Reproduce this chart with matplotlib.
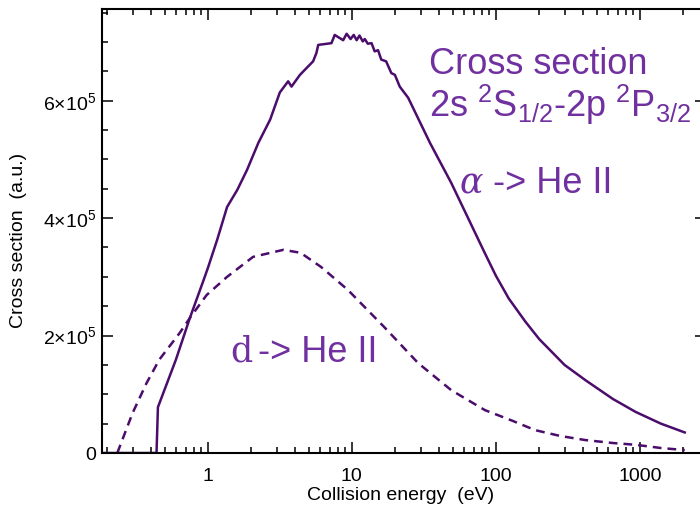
import numpy as np
import matplotlib
matplotlib.use("Agg")
from matplotlib import pyplot as plt
from matplotlib.ticker import FixedLocator, LogLocator, MultipleLocator, NullFormatter

plt.rcParams['font.family'] = ['Liberation Sans', 'DejaVu Sans']
plt.rcParams['mathtext.fontset'] = 'custom'
plt.rcParams['mathtext.rm'] = 'Liberation Sans'
plt.rcParams['mathtext.it'] = 'Liberation Sans:italic'

# alpha -> He II (solid)
eAlpha = [0.184, 0.44, 0.45, 0.6, 0.75, 0.92, 1.0, 1.16, 1.36, 1.6, 1.87, 2.24, 2.71,
          3.16, 3.61, 3.81, 4.36, 5.38, 5.67, 5.84, 7.22, 7.6, 8.7, 9.2, 9.8, 10.3,
          10.8, 11.3, 11.9, 12.3, 12.9, 13.7, 14.4, 15.2, 16.0, 17.3, 18.8, 19.9,
          21.5, 24.6, 34.9, 49, 84, 100, 123, 160, 200, 300, 419, 650, 934, 1400, 2050]
sAlpha = [0, 0, 0.78e5, 1.59e5, 2.30e5, 2.90e5, 3.15e5, 3.63e5, 4.19e5, 4.48e5, 4.82e5,
          5.28e5, 5.68e5, 6.14e5, 6.33e5, 6.24e5, 6.44e5, 6.67e5, 6.81e5, 6.95e5,
          6.98e5, 7.12e5, 7.03e5, 7.14e5, 7.05e5, 7.12e5, 7.03e5, 7.11e5, 7.01e5,
          7.05e5, 6.97e5, 6.98e5, 6.84e5, 6.86e5, 6.70e5, 6.67e5, 6.47e5, 6.44e5,
          6.24e5, 6.05e5, 5.28e5, 4.60e5, 3.40e5, 3.02e5, 2.63e5, 2.24e5, 1.94e5,
          1.50e5, 1.24e5, 0.92e5, 0.70e5, 0.50e5, 0.35e5]

# d -> He II (dashed)
eD = [0.235, 0.30, 0.375, 0.46, 0.64, 0.75, 0.98, 1.36, 2.06, 3.34, 4.4, 6.1, 9.36,
      16.7, 28.9, 49, 84, 130, 187, 280, 419, 650, 934, 1400, 2050]
sD = [0, 0.68e5, 1.19e5, 1.59e5, 2.05e5, 2.30e5, 2.69e5, 3.0e5, 3.34e5, 3.46e5,
      3.41e5, 3.17e5, 2.78e5, 2.15e5, 1.53e5, 1.07e5, 0.73e5, 0.55e5, 0.39e5,
      0.29e5, 0.22e5, 0.17e5, 0.14e5, 0.085e5, 0.05e5]

xTicks = [1, 10, 100, 1000]
xTickLabels = ["1", "10", "100", "1000"]
yTicks = [0, 2e5, 4e5, 6e5]
yTickLabels = ["0", "2×10$^5$", "4×10$^5$", "6×10$^5$"]

lineColor = '#4b0c6c'
textColor = '#7030a0'
W, H = 700, 509

fig = plt.figure(figsize=(7.0, 5.09), dpi=100)
ax = fig.add_axes([102/W, 56/H, 604/W, 444.5/H])

ax.plot(eAlpha, sAlpha, color=lineColor, lw=1.8)
ax.plot(eD, sD, color=lineColor, lw=1.8, dashes=(3.5, 2.4))

ax.set_xscale('log')
ax.set_xlim(0.184, 2880)
ax.set_ylim(0, 7.57e5)

ax.xaxis.set_major_locator(FixedLocator(xTicks))
ax.set_xticklabels(xTickLabels)
ax.xaxis.set_minor_locator(LogLocator(base=10, subs=np.arange(2, 10)))
ax.xaxis.set_minor_formatter(NullFormatter())
ax.yaxis.set_major_locator(FixedLocator(yTicks))
ax.set_yticklabels(yTickLabels)
ax.yaxis.set_minor_locator(MultipleLocator(5e4))

ax.tick_params(which='both', direction='in', top=True, right=True, width=1.1, color='black')
ax.tick_params(which='major', length=8)
ax.tick_params(which='minor', length=4.3)
ax.tick_params(axis='x', labelsize=14, pad=11)
ax.tick_params(axis='y', labelsize=14, pad=4)
for sp in ax.spines.values():
    sp.set_linewidth(1.5)

fig.text(401/W, 1 - 495/H, "Collision energy  (eV)", ha='center', va='center', fontsize=14)
fig.text(19/W, 1 - 240/H, "Cross section  (a.u.)", ha='center', va='center',
         rotation=90, fontsize=14)

fig.text(429/W, 1 - 74/H, "Cross section", color=textColor, fontsize=26, va='baseline')
fig.text(429/W, 1 - 117/H, "2s $^2$S$_{1/2}$-2p $^2$P$_{3/2}$", color=textColor,
         fontsize=26, va='baseline')
fig.text(460/W, 1 - 193/H, "α", color=textColor, fontsize=25, va='baseline',
         family='DejaVu Serif', style='italic')
fig.text(493/W, 1 - 193/H, "-> He II", color=textColor, fontsize=26, va='baseline')
fig.text(230/W, 1 - 362/H, "d", color=textColor, fontsize=25, va='baseline',
         family='DejaVu Serif')
fig.text(258/W, 1 - 362/H, "-> He II", color=textColor, fontsize=26, va='baseline')

fig.savefig("out.png", dpi=100)
